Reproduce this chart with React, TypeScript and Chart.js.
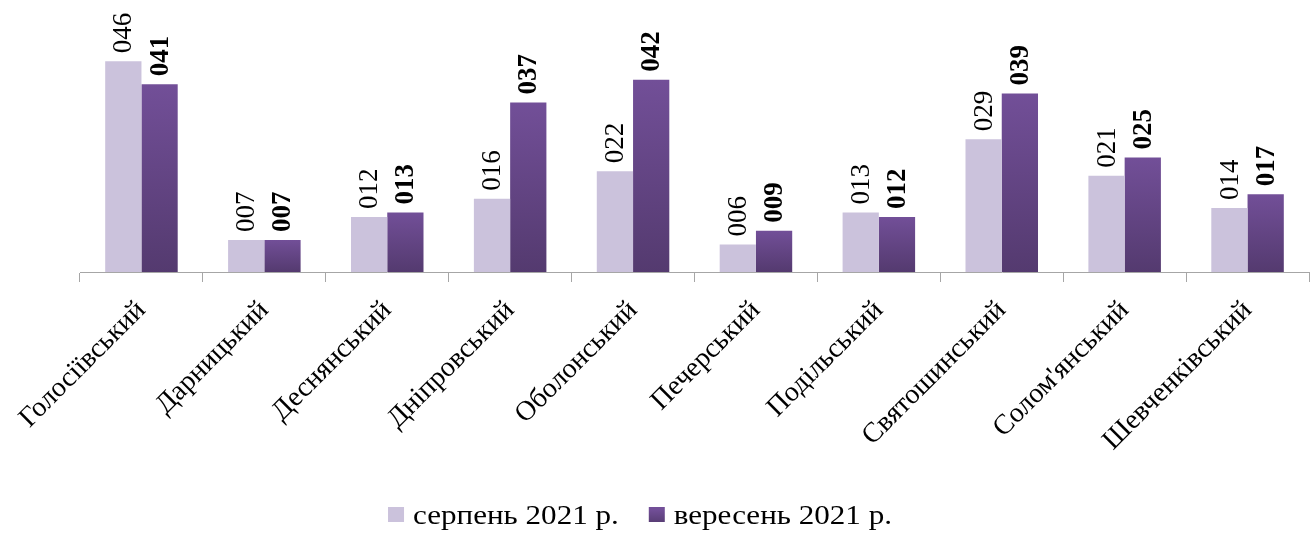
import React, { useEffect, useRef } from "react";
import { Chart, registerables } from "chart.js";

Chart.register(...registerables);

const categories = [
  "Голосіївський",
  "Дарницький",
  "Деснянський",
  "Дніпровський",
  "Оболонський",
  "Печерський",
  "Подільський",
  "Святошинський",
  "Солом'янський",
  "Шевченківський",
];
const seriesNames = ["серпень 2021 р.", "вересень 2021 р."];
const august = [46, 7, 12, 16, 22, 6, 13, 29, 21, 14];
const september = [41, 7, 13, 37, 42, 9, 12, 39, 25, 17];

const FONT = "'Liberation Serif', 'Times New Roman', serif";
const LIGHT = "#cbc2dc";
const DARK_TOP = "#724f98";
const DARK_BOTTOM = "#543a6f";
const DARK_SOLID = "#634585";

const fmt = (v: number) => String(v).padStart(3, "0");

const dataLabels = {
  id: "dataLabels",
  afterDatasetsDraw(chart: any) {
    const ctx = chart.ctx;
    chart.data.datasets.forEach((ds: any, di: number) => {
      const meta = chart.getDatasetMeta(di);
      meta.data.forEach((el: any, i: number) => {
        const v = ds.data[i];
        ctx.save();
        ctx.translate(el.x, el.y - 8);
        ctx.rotate(-Math.PI / 2);
        ctx.font = (di === 1 ? "bold " : "") + "27px " + FONT;
        ctx.fillStyle = "#000";
        ctx.textAlign = "left";
        ctx.textBaseline = "middle";
        ctx.fillText(fmt(v), 0, 1);
        ctx.restore();
      });
    });
  },
};

const customLegend = {
  id: "customLegend",
  afterDraw(chart: any) {
    const ctx = chart.ctx;
    const boxW = 16;
    const boxH = 15;
    const gapText = 9;
    const gapItem = 30;
    const cy = 517;
    const centerX = 640;
    const sx = 1.11;
    ctx.save();
    ctx.font = "28px " + FONT;
    const items = chart.data.datasets.map((ds: any, i: number) => ({
      text: ds.label,
      color: i === 0 ? LIGHT : DARK_SOLID,
      w: ctx.measureText(ds.label).width * sx,
    }));
    let total = 0;
    items.forEach((it: any, i: number) => {
      total += boxW + gapText + it.w + (i > 0 ? gapItem : 0);
    });
    let x = centerX - total / 2;
    items.forEach((it: any, i: number) => {
      if (i > 0) x += gapItem;
      if (i === 1) {
        const g = ctx.createLinearGradient(0, cy - boxH / 2, 0, cy + boxH / 2);
        g.addColorStop(0, DARK_TOP);
        g.addColorStop(1, DARK_BOTTOM);
        ctx.fillStyle = g;
      } else {
        ctx.fillStyle = it.color;
      }
      ctx.fillRect(x, cy - 10, boxW, boxH);
      x += boxW + gapText;
      ctx.save();
      ctx.translate(x, cy);
      ctx.scale(sx, 1);
      ctx.fillStyle = "#000";
      ctx.textAlign = "left";
      ctx.textBaseline = "middle";
      ctx.fillText(it.text, 0, 0);
      ctx.restore();
      x += it.w;
    });
    ctx.restore();
  },
};

function darkFill(c: any) {
  if (c.type !== "data" || !c.chart.scales || !c.chart.scales.y) return DARK_SOLID;
  const y = c.chart.scales.y;
  const top = y.getPixelForValue(c.parsed ? c.parsed.y : c.raw);
  const base = y.getPixelForValue(0);
  if (!isFinite(top) || !isFinite(base) || top === base) return DARK_SOLID;
  const g = c.chart.ctx.createLinearGradient(0, top, 0, base);
  g.addColorStop(0, DARK_TOP);
  g.addColorStop(1, DARK_BOTTOM);
  return g;
}

export default function App() {
  const ref = useRef<HTMLCanvasElement | null>(null);
  useEffect(() => {
    if (!ref.current) return;
    const chart = new Chart(ref.current, {
      type: "bar",
      data: {
        labels: categories,
        datasets: [
          {
            label: seriesNames[0],
            data: august,
            backgroundColor: LIGHT,
            borderWidth: 0,
            categoryPercentage: 0.59,
            barPercentage: 1,
          },
          {
            label: seriesNames[1],
            data: september,
            backgroundColor: darkFill as any,
            borderWidth: 0,
            categoryPercentage: 0.59,
            barPercentage: 1,
          },
        ],
      },
      options: {
        responsive: false,
        animation: false,
        devicePixelRatio: 1,
        layout: { padding: { left: 80, right: 1, top: 43, bottom: 0 } },
        scales: {
          x: {
            offset: true,
            afterFit: (scale: any) => {
              scale.height = 262;
            },
            grid: {
              display: true,
              offset: true,
              drawOnChartArea: false,
              drawTicks: true,
              tickLength: 10,
              color: "#a6a6a6",
            },
            border: { display: true, color: "#a6a6a6", width: 1 },
            ticks: {
              minRotation: 45,
              maxRotation: 45,
              autoSkip: false,
              color: "#000",
              padding: 12,
              font: { family: FONT, size: 28 },
            },
          },
          y: {
            display: false,
            min: 0,
            max: 50,
          },
        },
        plugins: {
          legend: { display: false },
          tooltip: { enabled: false },
        },
      },
      plugins: [dataLabels, customLegend],
    });
    return () => chart.destroy();
  }, []);
  return (
    <div style={{ position: "absolute", left: 0, top: 0, width: 1310, height: 534, background: "#fff" }}>
      <canvas ref={ref} width={1310} height={534} style={{ width: 1310, height: 534 }} />
    </div>
  );
}
